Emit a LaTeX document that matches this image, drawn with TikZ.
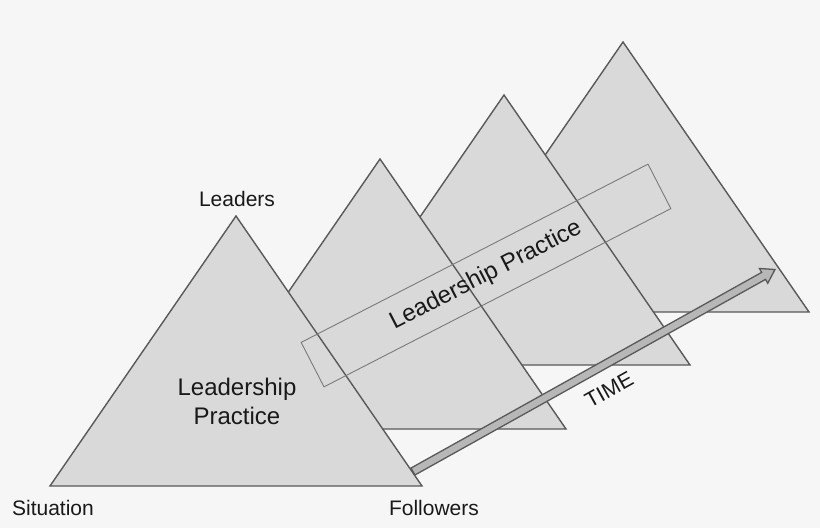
\documentclass[tikz,border=0pt]{standalone}
\usepackage{fontspec}
\setmainfont{Liberation Sans}
\usetikzlibrary{calc}
\definecolor{bgcol}{HTML}{F6F6F6}
\definecolor{trifill}{HTML}{D9D9D9}
\definecolor{triline}{HTML}{595959}
\definecolor{arrfill}{HTML}{B7B7B7}
\definecolor{boxline}{HTML}{7A7A7A}
\begin{document}
\begin{tikzpicture}[x=1pt,y=1pt]
\tikzstyle{every node}+=[inner sep=0pt, text=black!90]
\tikzstyle{tri}=[fill=trifill, draw=triline, line width=1.4pt, line join=miter]
\tikzstyle{lbl}=[font=\fontsize{21}{25}\selectfont]
\fill [bgcol] (0,0) rectangle (820,-528);
\useasboundingbox (0,0) rectangle (820,-528);
% triangles, back to front
\draw [tri] (623,-42) -- (809,-312) -- (437,-312) -- cycle;
\draw [tri] (504,-95) -- (690,-365) -- (318,-365) -- cycle;
\draw [tri] (380,-159) -- (566,-429) -- (194,-429) -- cycle;
% time arrow
\coordinate (tail) at (413,-471.5);
\coordinate (tip) at (776,-270);
\begin{scope}[shift={(tail)}, rotate=29.16]
\draw [fill=arrfill, draw=triline, line width=1.3pt, line join=miter] (0,-4) -- (401.5,-4) -- (401.5,-8.5) -- (414.5,0) -- (401.5,8.5) -- (401.5,4) -- (0,4) -- cycle;
\end{scope}
\node (time) [rotate=29.16, font=\fontsize{21.5}{25}\selectfont] at (609,-390) {TIME};
% front triangle
\draw [tri] (236,-216) -- (422,-486) -- (50,-486) -- cycle;
\node (practice) [align=center, font=\fontsize{24}{29}\selectfont] at (237,-401) {Leadership\\Practice};
% band across the triangles
\node (band) [draw=boxline, line width=0.9pt, rotate=27.2, minimum width=390, minimum height=50, font=\fontsize{24}{29}\selectfont] at (486,-275.5) {Leadership Practice};
% corner labels
\node (leaders) [lbl] at (237,-199) {Leaders};
\node (situation) [lbl] at (53,-508) {Situation};
\node (followers) [lbl] at (434,-508) {Followers};
\end{tikzpicture}
\end{document}
